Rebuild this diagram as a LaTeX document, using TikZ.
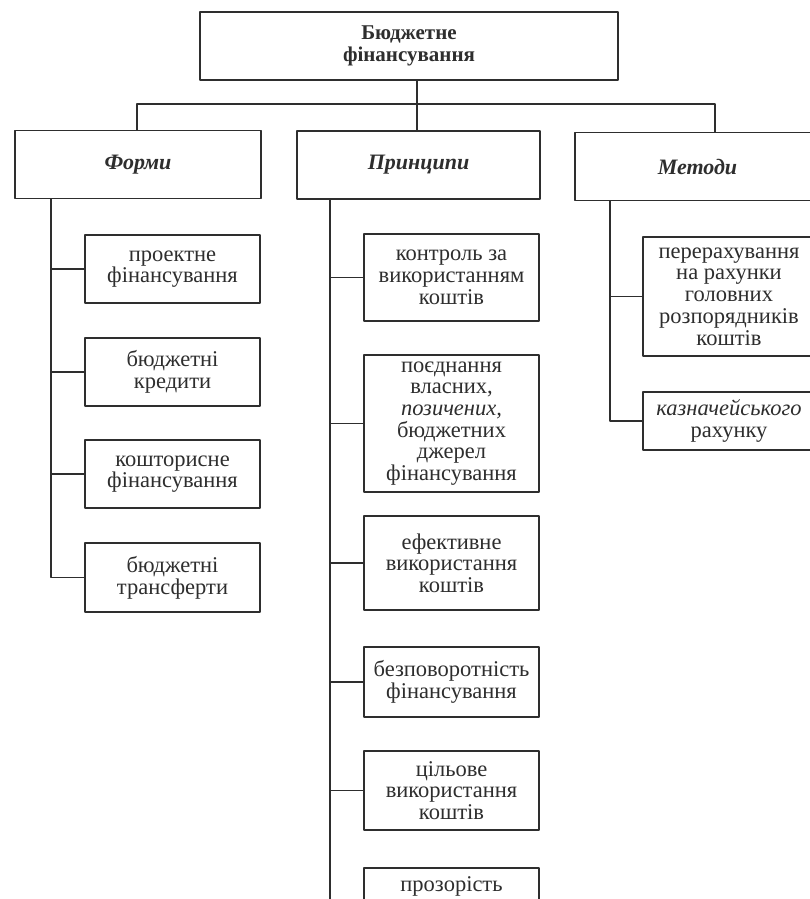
\documentclass[tikz,border=0pt]{standalone}
\usepackage{fontspec}
\setmainfont{Liberation Serif}
\begin{document}
\begin{tikzpicture}[x=1pt, y=-1pt, line cap=round, line join=round]
\colorlet{inkK}{black!82}
\tikzset{
  frame/.style={draw=inkK, line width=1.3pt, inner sep=0pt, align=center, text=inkK},
  headbox/.style={frame, minimum height=68pt, font=\fontsize{22}{22}\selectfont\bfseries\itshape},
  itembox/.style={frame, minimum width=175pt, font=\fontsize{22.5}{21.7}\selectfont},
  link/.style={draw=inkK, line width=1.3pt}
}
% ---- page ----
\useasboundingbox (0,0) rectangle (810,899);
\clip (0,0) rectangle (810,899);
\fill[white] (0,0) rectangle (810,899);
% ---- root ----
\node[frame, minimum width=418pt, minimum height=68pt,
  font=\fontsize{21}{22}\selectfont\bfseries] (fin) at (409,46)
  {Бюджетне\\фінансування};
% ---- three heads ----
\node[headbox, minimum width=246pt] (forms) at (138,164.5) {Форми};
\node[headbox, minimum width=243pt] (princ) at (418.5,165) {Принципи};
\node[headbox, minimum width=245pt] (meth) at (697.5,166.5) {Методи};
% ---- bus under the root ----
\coordinate (hub) at (417,104);
\coordinate (busL) at (137,104);
\coordinate (busR) at (715,104);
\draw[link] (fin.south -| hub) -- (hub);
\draw[link] (busL |- forms.north) -- (busL) -- (busR) -- (busR |- meth.north);
\draw[link] (hub) -- (hub |- princ.north);
% ---- forms ----
\node[itembox, minimum height=68pt] (f1) at (172.5,269) {проектне\\фінансування};
\node[itembox, minimum height=68pt] (f2) at (172.5,372) {бюджетні\\кредити};
\node[itembox, minimum height=68pt] (f3) at (172.5,474) {кошторисне\\фінансування};
\node[itembox, minimum height=69pt] (f4) at (172.5,577.5) {бюджетні\\трансферти};
\coordinate (spF) at (51,0);
\draw[link] (spF |- forms.south) -- (spF |- f4.west) -- (f4.west);
\foreach \k in {f1,f2,f3}
  \draw[link] (spF |- \k.west) -- (\k.west);
% ---- principles ----
\node[itembox, minimum height=87pt] (p1) at (451.5,277.5)
  {контроль за\\використанням\\коштів};
\node[itembox, minimum height=137pt] (p2) at (451.5,423.5)
  {поєднання\\власних,\\{\itshape позичених,}\\бюджетних\\джерел\\фінансування};
\node[itembox, minimum height=94pt] (p3) at (451.5,563)
  {ефективне\\використання\\коштів};
\node[itembox, minimum height=70pt] (p4) at (451.5,682)
  {безповоротність\\фінансування};
\node[itembox, minimum height=79pt] (p5) at (451.5,790.5)
  {цільове\\використання\\коштів};
\node[itembox, minimum height=36pt] (p6) at (451.5,886) {прозорість};
\coordinate (spP) at (330,910);
\draw[link] (spP |- princ.south) -- (spP);
\foreach \k in {p1,p2,p3,p4,p5}
  \draw[link] (spP |- \k.west) -- (\k.west);
% ---- methods ----
\node[itembox, minimum width=172pt, minimum height=119pt] (m1) at (729,296.5)
  {перерахування\\на рахунки\\головних\\розпорядників\\коштів};
\node[itembox, minimum width=172pt, minimum height=58pt] (m2) at (729,421)
  {{\itshape казначейського}\\рахунку};
\coordinate (spM) at (610,0);
\draw[link] (spM |- meth.south) -- (spM |- m2.west) -- (m2.west);
\draw[link] (spM |- m1.west) -- (m1.west);
\end{tikzpicture}
\end{document}
